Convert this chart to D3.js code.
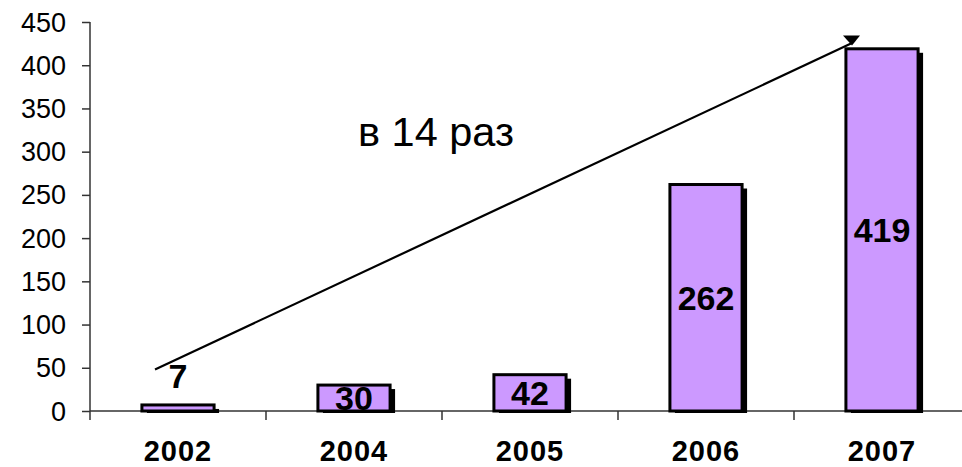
<!DOCTYPE html>
<html><head><meta charset="utf-8">
<script src="https://cdn.jsdelivr.net/npm/d3@7"></script>
<style>
html,body{margin:0;padding:0;background:#fff;}
svg{display:block;font-family:"Liberation Sans",Arial,sans-serif;}
</style></head>
<body>
<svg id="chart" width="962" height="467"></svg>
<script>
const categories = ["2002", "2004", "2005", "2006", "2007"];
const values = [7, 30, 42, 262, 419];
const yTicks = [0, 50, 100, 150, 200, 250, 300, 350, 400, 450];
const annotationText = "в 14 раз";
const annotationFrom = ["2002", 48];
const annotationTo = ["2007", 425];

const svg = d3.select("#chart");
const x = d3.scaleBand().domain(categories).range([90, 970]).paddingInner(0.59).paddingOuter(0.295);
const y = d3.scaleLinear().domain([0, 450]).range([411, 22]);

// y axis (ticks via d3 axis, labels drawn separately)
const yAxis = svg.append("g").attr("transform", "translate(90,0)")
  .call(d3.axisLeft(y).tickValues(yTicks).tickSize(8).tickFormat(""));
yAxis.select(".domain").attr("stroke", "#333").attr("stroke-width", 1.5).attr("d", "M0,22V420");
yAxis.selectAll(".tick line").attr("stroke", "#333").attr("stroke-width", 1.5);
svg.append("g").selectAll("text").data(yTicks).enter().append("text")
  .attr("x", 66).attr("y", d => y(d) + 9.5)
  .attr("text-anchor", "end").attr("font-size", 27).attr("fill", "#000")
  .text(d => d);

// x axis line and category separators
const step = x.step();
svg.append("line").attr("x1", 90).attr("x2", 970).attr("y1", y(0)).attr("y2", y(0))
  .attr("stroke", "#333").attr("stroke-width", 1.5);
svg.selectAll(".sep").data(categories.slice(1)).enter().append("line")
  .attr("x1", d => x(d) - (step - x.bandwidth()) / 2)
  .attr("x2", d => x(d) - (step - x.bandwidth()) / 2)
  .attr("y1", y(0)).attr("y2", y(0) + 9).attr("stroke", "#333").attr("stroke-width", 1.5);

svg.selectAll(".xl").data(categories).enter().append("text")
  .attr("x", d => x(d) + x.bandwidth() / 2).attr("y", 461)
  .attr("text-anchor", "middle").attr("font-size", 29).attr("font-weight", "bold")
  .attr("letter-spacing", 1).text(d => d);

const data = categories.map((c, i) => ({c, v: values[i]}));

// shadows
svg.selectAll(".shadow").data(data).enter().append("rect")
  .attr("x", d => x(d.c) + 5).attr("y", d => y(d.v) + 4)
  .attr("width", x.bandwidth()).attr("height", d => y(0) - y(d.v) - 2)
  .attr("fill", "#000");
// bars
svg.selectAll(".bar").data(data).enter().append("rect")
  .attr("x", d => x(d.c)).attr("y", d => y(d.v))
  .attr("width", x.bandwidth()).attr("height", d => y(0) - y(d.v))
  .attr("fill", "#CC99FF").attr("stroke", "#000").attr("stroke-width", 3);

// value labels
svg.selectAll(".vl").data(data).enter().append("text")
  .attr("x", d => x(d.c) + x.bandwidth() / 2)
  .attr("y", d => {
    const h = y(0) - y(d.v);
    return h < 15 ? y(d.v) - 17 : (y(d.v) + y(0)) / 2 + 12;
  })
  .attr("text-anchor", "middle").attr("font-size", 34).attr("font-weight", "bold")
  .text(d => d.v);

// annotation arrow line
const ax1 = x(annotationFrom[0]) + x.bandwidth() / 2 - 23, ay1 = y(annotationFrom[1]);
const ax2 = x(annotationTo[0]) + x.bandwidth() / 2 - 31, ay2 = y(annotationTo[1]);
svg.append("line").attr("x1", ax1).attr("y1", ay1).attr("x2", ax2).attr("y2", ay2)
  .attr("stroke", "#000").attr("stroke-width", 2.2);
svg.append("path")
  .attr("d", `M${ax2 - 8},${ay2 - 8}L${ax2 + 9},${ay2 - 8}L${ax2 + 1},${ay2 + 2}Z`)
  .attr("fill", "#000");

svg.append("text").attr("x", 358).attr("y", 146).attr("font-size", 41.5)
  .text(annotationText);
</script>
</body></html>
